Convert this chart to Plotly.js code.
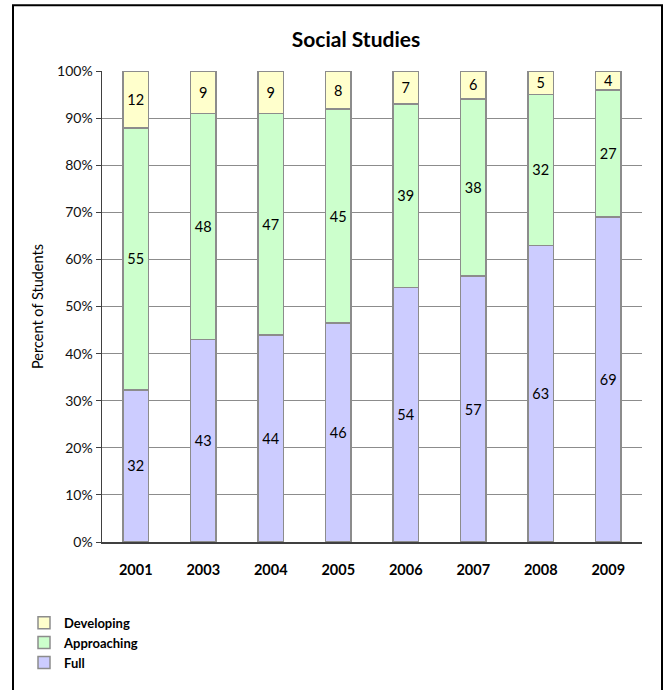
<!DOCTYPE html>
<html>
<head>
<meta charset="utf-8">
<script src="https://cdn.plot.ly/plotly-3.0.1.min.js"></script>
<style>html,body{margin:0;padding:0;background:#fff;}#chart{width:667px;height:690px;}</style>
</head>
<body>
<div id="chart"></div>
<script>
var years = ["2001","2003","2004","2005","2006","2007","2008","2009"];
var full = [32,43,44,46,54,57,63,69];
var approaching = [55,48,47,45,39,38,32,27];
var developing = [12,9,9,8,7,6,5,4];
var yTickVals = [0,10,20,30,40,50,60,70,80,90,100];
var yTickText = ["0%","10%","20%","30%","40%","50%","60%","70%","80%","90%","100%"];

var FONT = "Lato, 'Open Sans', sans-serif";
function mk(name, vals, color){
  return {
    type:"bar", name:name, x:years, y:vals, text:vals.map(String),
    textposition:"inside", insidetextanchor:"middle", textangle:0, constraintext:"none",
    textfont:{family:FONT,size:14.5,color:"#000"},
    marker:{color:color,line:{color:"#8c8c8c",width:1.5}},
    hoverinfo:"x+y+name"
  };
}
var data = [
  mk("Full", full, "#ccccff"),
  mk("Approaching", approaching, "#ccffcc"),
  mk("Developing", developing, "#ffffcc")
];
var L=102,R=642,T=71,B=544;
var W=R-L,H=B-T;
var layout = {
  width:667,height:690,
  margin:{l:L,r:667-R,t:T,b:690-B,pad:0},
  paper_bgcolor:"#fff",plot_bgcolor:"#fff",
  barmode:"stack",barnorm:"percent",bargap:0.615,
  font:{family:FONT,size:12,color:"#000"},
  title:{text:"<b>Social Studies</b>",x:356/667,xanchor:"center",y:1-40/690,yanchor:"middle",
    font:{family:FONT,size:21,color:"#000"}},
  xaxis:{type:"category",showline:true,linecolor:"#404040",linewidth:1.5,ticks:"",
    showgrid:false,tickfont:{family:FONT,size:14.5,color:"#000",weight:"bold"},ticklabelstandoff:14},
  yaxis:{range:[0,100],tickvals:yTickVals,ticktext:yTickText,showline:true,linecolor:"#404040",linewidth:1.5,
    ticks:"outside",ticklen:5,tickcolor:"#404040",showgrid:true,gridcolor:"#8c8c8c",gridwidth:1,
    zeroline:false,tickfont:{family:FONT,size:14,color:"#111"},
    title:{text:"Percent of Students",font:{family:FONT,size:14.5,color:"#000"},standoff:10}},
  legend:{x:(24-L)/W,y:(B-610)/H,xanchor:"left",yanchor:"top",traceorder:"reversed",
    font:{family:FONT,size:13,color:"#000",weight:"bold"},bgcolor:"rgba(0,0,0,0)",itemwidth:30,tracegroupgap:0},
  showlegend:true,
  shapes:[{type:"rect",xref:"paper",yref:"paper",x0:(13-L)/W,x1:(662-L)/W,y0:(B-720)/H,y1:(B-5)/H,
    line:{color:"#000",width:2},fillcolor:"rgba(0,0,0,0)",layer:"below"}]
};
Plotly.newPlot("chart",data,layout,{displayModeBar:false,staticPlot:true});
</script>
</body>
</html>
